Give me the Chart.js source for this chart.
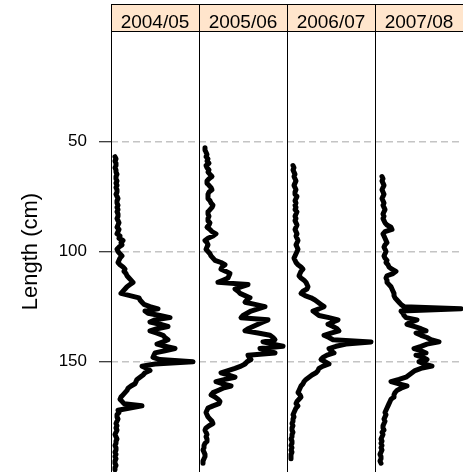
<!DOCTYPE html>
<html>
<head>
<meta charset="utf-8">
<script src="https://cdn.jsdelivr.net/npm/chart.js@4.4.1/dist/chart.umd.min.js"></script>
<style>
    html, body { margin: 0; padding: 0; background: #fff; overflow: hidden; }
    canvas { display: block; }
</style>
</head>
<body>
<canvas id="board" width="463" height="472"></canvas>
<script>
// one panel per season, first 1 cm length class of each
var seasons = ['2004/05', '2005/06', '2006/07', '2007/08'];
var firstLength = [57, 53, 61, 66];
var lengthTicks = [50, 100, 150];

// frequency by 1 cm length class
var freq0405 = [0, 1, 0, 1, 1, 0, 1, 1, 2, 1, 1, 2, 1, 2, 1, 2, 2, 1, 2, 3,
    2, 2, 3, 2, 3, 2, 3, 3, 2, 3, 4, 3, 2, 4, 3, 2, 5, 4,
    8, 6, 7, 4, 2, 3, 5, 7, 5, 4, 3, 5, 8, 10, 9, 11, 12, 14, 16, 18,
    15, 12, 10, 8, 6, 15, 24, 25, 27, 29, 35, 43, 30, 33, 45, 55, 40, 35, 45, 53,
    42, 35, 42, 48, 50, 53, 48, 42, 50, 60, 50, 40, 39, 38, 45, 78, 40, 27, 32, 35,
    30, 28, 25, 22, 21, 20, 16, 13, 12, 10, 8, 6, 5, 7, 9, 27, 15, 3, 4, 2,
    2, 3, 2, 1, 2, 1, 2, 1, 0, 1, 2, 1, 1, 0, 1, 1, 0, 1, 0, 1, 0, 0, 1, 0, 0];

var freq0506 = [2, 2, 3, 4, 3, 5, 4, 6, 3, 4, 6, 5, 7, 9, 6, 4, 4, 6, 8, 9,
    6, 5, 5, 5, 7, 8, 10, 9, 7, 5, 5, 6, 5, 5, 7, 6, 4, 7, 9, 13,
    10, 5, 2, 4, 5, 4, 3, 5, 7, 8, 10, 12, 18, 22, 19, 18, 23, 27, 26, 25,
    20, 15, 45, 38, 32, 35, 37, 42, 47, 44, 42, 52, 62, 55, 48, 44, 40, 38, 65, 60,
    55, 50, 45, 42, 55, 67, 70, 72, 60, 70, 80, 57, 65, 72, 45, 46, 48, 44, 42, 38,
    32, 25, 18, 25, 32, 22, 13, 20, 28, 20, 15, 10, 8, 12, 15, 17, 16, 10, 5, 4,
    3, 4, 5, 7, 9, 10, 6, 3, 2, 3, 4, 3, 4, 4, 2, 1, 1, 0, 1, 2, 2, 1, 0, 0];

var freq0607 = [2, 3, 2, 3, 4, 3, 4, 5, 4, 3, 4, 5, 4, 4, 6, 5, 4, 5, 4, 5,
    4, 6, 5, 4, 5, 4, 5, 6, 5, 4, 5, 6, 5, 6, 7, 6, 5, 6, 7, 6,
    5, 4, 3, 4, 5, 7, 10, 12, 10, 9, 8, 10, 13, 15, 16, 17, 16, 12, 10, 14,
    20, 24, 27, 30, 33, 28, 22, 25, 28, 38, 47, 42, 37, 42, 46, 48, 40, 33, 38, 42,
    80, 55, 45, 38, 40, 43, 36, 32, 30, 34, 38, 32, 28, 27, 25, 21, 18, 15, 13, 12,
    10, 9, 8, 7, 9, 10, 8, 6, 5, 7, 5, 4, 3, 2, 3, 2, 2, 1, 2, 1,
    1, 2, 1, 1, 0, 1, 1, 0, 1, 0, 1, 0, 0, 0];

var freq0708 = [3, 4, 3, 4, 5, 4, 3, 4, 5, 4, 3, 4, 5, 4, 5, 6, 5, 4, 5, 4,
    5, 6, 8, 12, 13, 6, 4, 5, 6, 7, 8, 6, 5, 6, 7, 6, 5, 6, 8, 7,
    9, 10, 13, 17, 14, 8, 7, 8, 8, 10, 12, 13, 14, 15, 15, 16, 18, 20, 22, 25,
    82, 22, 24, 25, 27, 38, 32, 28, 35, 42, 47, 37, 42, 48, 52, 60, 48, 42, 35, 42,
    47, 37, 44, 48, 40, 45, 53, 42, 36, 33, 30, 27, 20, 12, 20, 28, 22, 18, 16, 15,
    15, 12, 11, 10, 9, 8, 7, 6, 7, 6, 5, 6, 5, 4, 4, 5, 3, 4, 3, 2,
    3, 2, 3, 2, 3, 2, 1, 2, 2, 1, 2];

var freqs = [freq0405, freq0506, freq0607, freq0708];

var fontFamily = "'Liberation Sans', Arial, Helvetica, sans-serif";
Chart.defaults.font.family = fontFamily;
Chart.defaults.color = '#000';

function toPoints(freq, start) {
    return freq.map(function (f, i) {
        return { x: f, y: start + i };
    });
}

// strips on top and panel borders
const panelFrames = {
    id: 'panelFrames',
    afterDraw(chart) {
        const { ctx, chartArea } = chart;
        const stripTop = 4.5;
        const stripBottom = Math.round(chartArea.top) + 0.5;

        ctx.save();
        seasons.forEach(function (name, i) {
            const sc = chart.scales['x' + i];
            ctx.fillStyle = '#FFE5CC';
            ctx.fillRect(sc.left, stripTop, sc.width, stripBottom - stripTop);
            ctx.fillStyle = '#000';
            ctx.font = '19px ' + fontFamily;
            ctx.textAlign = 'center';
            ctx.textBaseline = 'alphabetic';
            ctx.fillText(name, sc.left + sc.width / 2, 28);
        });

        ctx.strokeStyle = '#000';
        ctx.lineWidth = 1;
        ctx.beginPath();
        ctx.moveTo(chartArea.left, stripTop);
        ctx.lineTo(chartArea.right, stripTop);
        ctx.moveTo(chartArea.left, stripBottom);
        ctx.lineTo(chartArea.right, stripBottom);
        seasons.forEach(function (name, i) {
            const sc = chart.scales['x' + i];
            const l = Math.round(sc.left) + 0.5;
            const r = Math.round(sc.right) + 0.5;
            ctx.moveTo(l, stripTop);
            ctx.lineTo(l, chartArea.bottom);
            ctx.moveTo(r, stripTop);
            ctx.lineTo(r, chartArea.bottom);
        });
        ctx.stroke();
        ctx.restore();
    }
};

var scales = {
    y: {
        type: 'linear',
        position: 'left',
        reverse: true,
        min: 0,
        max: 200,
        afterBuildTicks: function (axis) {
            axis.ticks = lengthTicks.map(function (v) { return { value: v }; });
        },
        afterFit: function (axis) {
            axis.width = 111;
            axis.paddingTop = 0;
            axis.paddingBottom = 0;
        },
        grid: {
            color: '#c4c4c4',
            lineWidth: 1.5,
            tickColor: '#000',
            tickLength: 12,
            tickWidth: 1
        },
        border: { display: false, dash: [7, 4] },
        ticks: {
            color: '#000',
            padding: 12,
            font: { size: 17 }
        },
        title: {
            display: true,
            text: 'Length (cm)',
            color: '#000',
            font: { size: 22 },
            padding: { top: 18, bottom: 0 }
        }
    }
};

seasons.forEach(function (name, i) {
    scales['x' + i] = {
        type: 'linear',
        position: 'bottom',
        stack: 'panels',
        stackWeight: 1,
        min: -4,
        max: 84,
        display: false
    };
});

var datasets = freqs.map(function (f, i) {
    return {
        label: seasons[i],
        data: toPoints(f, firstLength[i]),
        xAxisID: 'x' + i,
        yAxisID: 'y',
        showLine: true,
        borderColor: '#000',
        borderWidth: 5,
        borderJoinStyle: 'round',
        borderCapStyle: 'round',
        pointRadius: 0,
        tension: 0
    };
});

window.myChart = new Chart(document.getElementById('board'), {
    type: 'scatter',
    data: { datasets: datasets },
    options: {
        responsive: false,
        animation: false,
        devicePixelRatio: 1,
        layout: { padding: { top: 31, right: 0, bottom: 0, left: 0 } },
        plugins: {
            legend: { display: false },
            tooltip: { enabled: false }
        },
        scales: scales
    },
    plugins: [panelFrames]
});
</script>
</body>
</html>
